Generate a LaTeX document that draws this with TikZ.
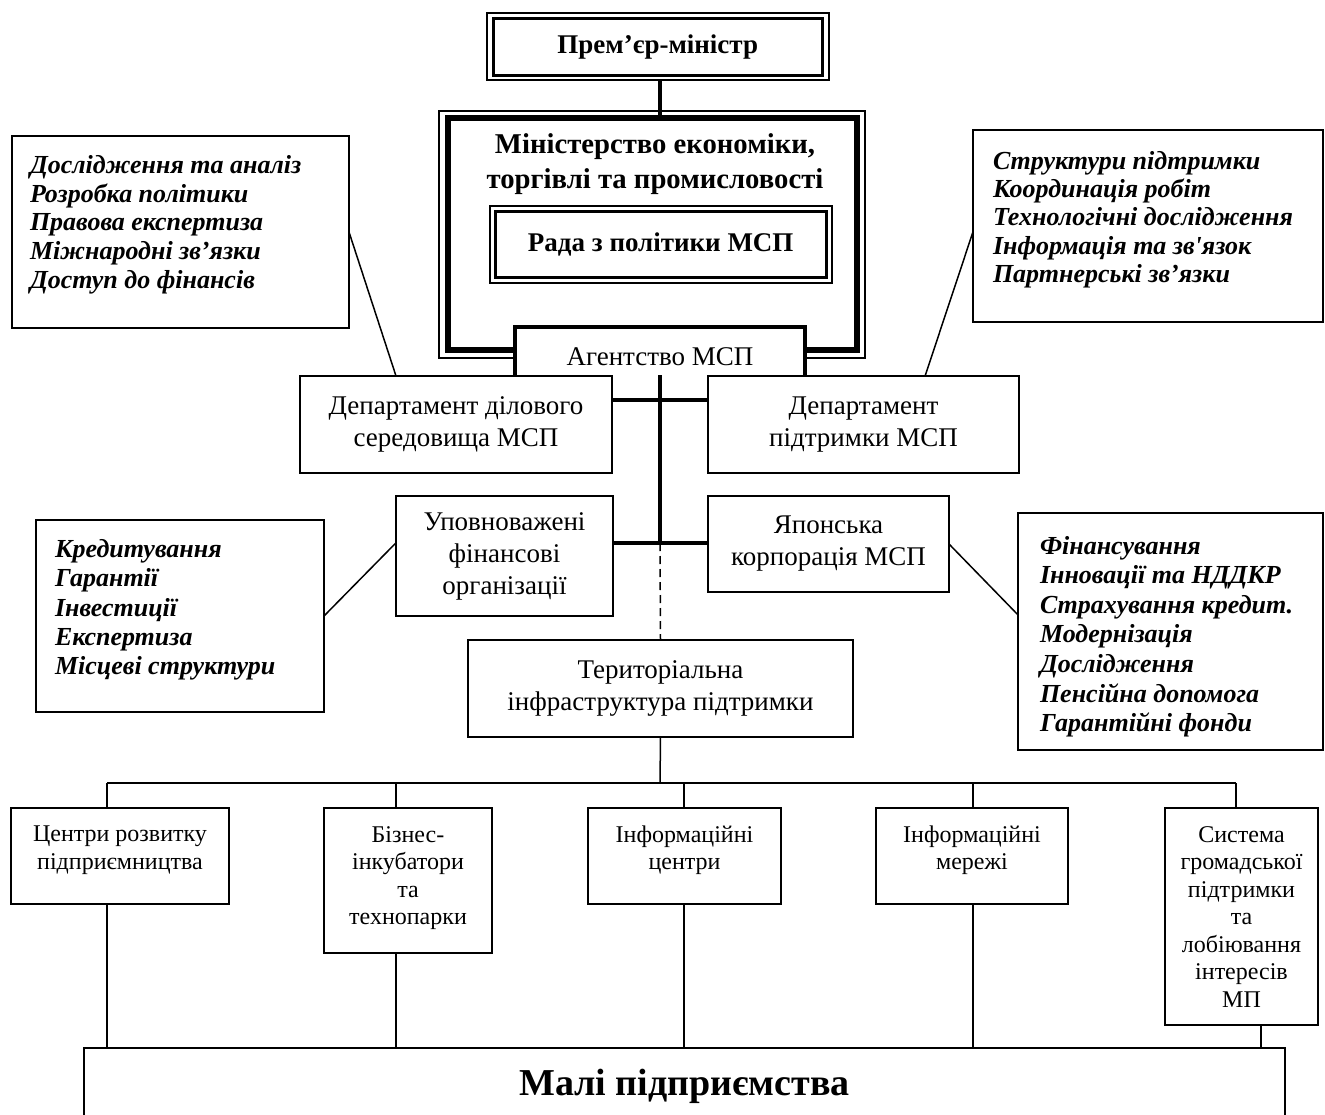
\documentclass[tikz,border=0pt]{standalone}
\usepackage{fontspec}
\setmainfont{Liberation Serif}
\usetikzlibrary{calc}
\begin{document}
\begin{tikzpicture}[x=1pt,y=-1pt,
  every node/.style={outer sep=0pt},
  ubox/.style={draw, line width=1.5pt, fill=white, inner sep=0pt},
  reg/.style={font=\fontsize{27}{32}\selectfont, align=center, inner sep=0pt},
  bfc/.style={font=\fontsize{27}{34}\selectfont\bfseries, align=center, inner sep=0pt},
  sm/.style={font=\fontsize{24}{27.5}\selectfont, align=center, inner sep=0pt},
  itl/.style={font=\fontsize{26}{28.6}\selectfont\bfseries\itshape, align=left, inner sep=0pt, anchor=west},
  conn/.style={line width=1.5pt},
  heavy/.style={line width=4pt},
]
\useasboundingbox (0,0) rectangle (1325,1115);

\coordinate (j1) at (660,400);
\coordinate (j2) at (660,543);

% Prime minister
\node[draw, line width=3pt, inner sep=0pt, minimum width=328.5pt, minimum height=56.5pt, bfc] (pm) at (657.75,47.25) {Прем’єр-міністр};
\draw[line width=2pt] ([xshift=-7pt,yshift=6pt]pm.north west) rectangle ([xshift=7pt,yshift=-5pt]pm.south east);
\coordinate (pmb) at ([yshift=-5pt]pm.south);

% Ministry
\node[draw, line width=6pt, minimum width=409pt, minimum height=231.5pt, inner sep=0pt] (min) at (652.5,234.25) {};
\draw[line width=2pt] ([xshift=-9pt,yshift=7.5pt]min.north west) rectangle ([xshift=8pt,yshift=-7.5pt]min.south east);
\node[bfc, font=\fontsize{28.7}{34.5}\selectfont\bfseries] (mint) at (655,164) {Міністерство економіки,\\торгівлі та промисловості};
\draw[heavy] (pmb -| j1) -- (min.north -| j1);

% Council
\node[draw, line width=3pt, minimum width=330.5pt, minimum height=66.5pt, inner sep=0pt, bfc, fill=white] (rada) at (660.75,244.75) {Рада з політики МСП};
\draw[line width=2pt] ([xshift=-6pt,yshift=5.5pt]rada.north west) rectangle ([xshift=6pt,yshift=-5.5pt]rada.south east);

% Agency
\node[fill=white, minimum width=290pt, minimum height=48pt, inner sep=0pt] (agency) at (660,351) {};
\draw[line width=3.5pt] (agency.south west) -- (agency.north west) -- (agency.north east) -- (agency.south east);
\node[reg] (agencyt) at (660,357) {Агентство МСП};

% Italic side boxes
\node[ubox, minimum width=337pt, minimum height=192pt] (lb1) at (180.5,232) {};
\node[itl] (lb1t) at (30,224.7) {Дослідження та аналіз\\Розробка політики\\Правова експертиза\\Міжнародні зв’язки\\Доступ до фінансів};
\node[ubox, minimum width=350pt, minimum height=192pt] (rb1) at (1148,226) {};
\node[itl, font=\fontsize{26}{28.33}\selectfont\bfseries\itshape] (rb1t) at (993,219.5) {Структури підтримки\\Координація робіт\\Технологічні дослідження\\Інформація та зв\textquotesingle язок\\Партнерські зв’язки};
\node[ubox, minimum width=288pt, minimum height=192pt] (lb2) at (180,616) {};
\node[itl, font=\fontsize{26}{29.3}\selectfont\bfseries\itshape] (lb2t) at (55,609.8) {Кредитування\\Гарантії\\Інвестиції\\Експертиза\\Місцеві структури};
\node[ubox, minimum width=305pt, minimum height=237pt] (rb2) at (1170.5,631.5) {};
\node[itl, font=\fontsize{26}{29.6}\selectfont\bfseries\itshape] (rb2t) at (1040,636.6) {Фінансування\\Інновації та НДДКР\\Страхування кредит.\\Модернізація\\Дослідження\\Пенсійна допомога\\Гарантійні фонди};

% Departments
\node[ubox, minimum width=312pt, minimum height=97pt, reg] (deptL) at (456,424.5) {Департамент ділового\\середовища МСП};
\node[ubox, minimum width=311pt, minimum height=97pt, reg] (deptR) at (863.5,424.5) {Департамент\\підтримки МСП};
\node[ubox, minimum width=217pt, minimum height=120pt, reg] (fin) at (504.5,556) {Уповноважені\\фінансові\\організації};
\node[ubox, minimum width=241pt, minimum height=96pt, reg] (jap) at (828.5,544) {Японська\\корпорація МСП};
\node[ubox, minimum width=385pt, minimum height=97pt, reg] (terr) at (660.5,688.5) {Територіальна\\інфраструктура підтримки};

% side connectors
\draw[conn] (lb1.east) -- ($(deptL.north west)!0.3077!(deptL.north east)$);
\draw[conn] ($(rb1.north west)!0.53!(rb1.south west)$) -- ($(deptR.north west)!0.698!(deptR.north east)$);
\draw[conn] (lb2.east) -- ($(fin.north west)!0.39!(fin.south west)$);
\draw[conn] (jap.east) -- ($(rb2.north west)!0.43!(rb2.south west)$);

% spine
\draw[heavy] (agency.south) -- (j2);
\draw[heavy] (deptL.east |- j1) -- (deptR.west |- j1);
\draw[heavy] (fin.east |- j2) -- (jap.west |- j2);
\draw[conn, dash pattern=on 8pt off 5pt] (j2) -- (terr.north);

% bottom boxes
\node[ubox, minimum width=218pt, minimum height=96pt] (b1) at (120,856) {};
\node[sm] (b1t) at (120,850) {Центри розвитку\\підприємництва};
\node[ubox, minimum width=168pt, minimum height=145pt] (b2) at (408,880.5) {};
\node[sm] (b2t) at (408,878) {Бізнес-\\інкубатори\\та\\технопарки};
\node[ubox, minimum width=193pt, minimum height=96pt] (b3) at (684.5,856) {};
\node[sm] (b3t) at (684.5,850) {Інформаційні\\центри};
\node[ubox, minimum width=192pt, minimum height=96pt] (b4) at (972,856) {};
\node[sm] (b4t) at (972,850) {Інформаційні\\мережі};
\node[ubox, minimum width=153pt, minimum height=217pt] (b5) at (1241.5,916.5) {};
\node[sm] (b5t) at (1241.5,917) {Система\\громадської\\підтримки\\та\\лобіювання\\інтересів\\МП};

% small enterprises
\node[minimum width=1201pt, minimum height=67pt, inner sep=0pt] (small) at (684.5,1081.5) {};
\draw[conn] (small.south west) -- (small.north west) -- (small.north east) -- (small.south east);
\node[font=\fontsize{38}{44}\selectfont\bfseries, inner sep=0pt] (smallt) at (684.5,1086.5) {Малі підприємства};

% bus
\coordinate (bus) at (660,783);
\coordinate (d1) at (107,783);
\coordinate (d2) at (396,783);
\coordinate (d3) at (684,783);
\coordinate (d4) at (973,783);
\coordinate (d5) at (1236,783);
\coordinate (d5b) at (1261,1025);
\draw[conn] (terr.south) -- (bus);
\draw[conn] (d1) -- (d5);
\foreach \d/\b in {d1/b1, d2/b2, d3/b3, d4/b4, d5/b5} {
  \draw[conn] (\d) -- (\d |- \b.north);
}
\foreach \d/\b in {d1/b1, d2/b2, d3/b3, d4/b4, d5b/b5} {
  \draw[conn] (\d |- \b.south) -- (\d |- small.north);
}
\end{tikzpicture}
\end{document}
